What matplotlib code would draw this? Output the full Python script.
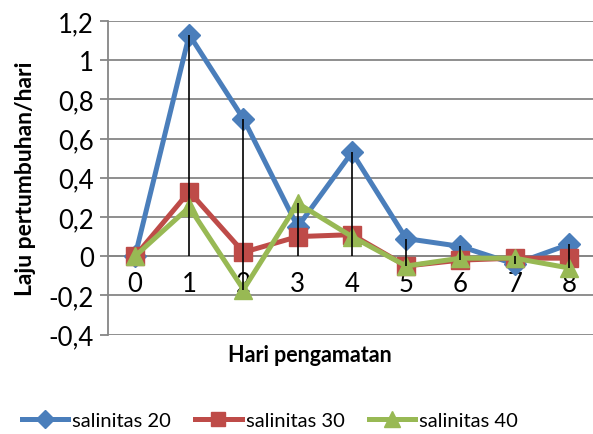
import matplotlib
matplotlib.use('Agg')
import matplotlib.pyplot as plt
from matplotlib.ticker import FuncFormatter

# hari pengamatan (categories)
hari = [0, 1, 2, 3, 4, 5, 6, 7, 8]

# laju pertumbuhan/hari per salinitas
sal20 = [0.0, 1.13, 0.70, 0.15, 0.53, 0.09, 0.05, -0.04, 0.06]
sal30 = [0.0, 0.33, 0.02, 0.10, 0.11, -0.05, -0.02, -0.01, -0.01]
sal40 = [0.0, 0.25, -0.17, 0.27, 0.10, -0.05, -0.01, -0.01, -0.06]

labels = ['salinitas 20', 'salinitas 30', 'salinitas 40']
yticks = [-0.4, -0.2, 0, 0.2, 0.4, 0.6, 0.8, 1.0, 1.2]

plt.rcParams['font.family'] = ['Lato', 'DejaVu Sans']

fig = plt.figure(figsize=(5.93, 4.35), dpi=100)
ax = fig.add_axes([0.182, 0.2285, 0.823, 0.7209])

grid_col = '#868686'
series = [
    (sal20, '#4A7EBB', 'D', 11),
    (sal30, '#BE4B48', 's', 12.5),
    (sal40, '#98B954', '^', 13),
]
x = list(range(len(hari)))
for (vals, col, mk, ms), lab in zip(series, labels):
    ax.plot(x, vals, color=col, lw=3.6, marker=mk, ms=ms, label=lab,
            zorder=3, clip_on=False)

# drop lines to the category axis
lo = [min(0, a, b, c) for a, b, c in zip(sal20, sal30, sal40)]
hi = [max(0, a, b, c) for a, b, c in zip(sal20, sal30, sal40)]
ax.vlines(x, lo, hi, color='black', lw=1.2, zorder=4)

ax.set_xlim(-0.5, len(hari) - 0.5)
ax.set_ylim(-0.4, 1.2)
ax.set_yticks(yticks)
ax.yaxis.set_major_formatter(FuncFormatter(lambda v, p: ('%g' % round(v, 1)).replace('.', ',')))
ax.set_xticks(x)
ax.set_xticklabels([str(h) for h in hari])

ax.grid(axis='y', color=grid_col, lw=1.3)
ax.set_axisbelow(True)
for s in ['top', 'right']:
    ax.spines[s].set_visible(False)
ax.spines['left'].set_color(grid_col)
ax.spines['left'].set_linewidth(1.3)
ax.spines['bottom'].set_position(('data', 0))
ax.spines['bottom'].set_color(grid_col)
ax.spines['bottom'].set_linewidth(1.3)

ax.tick_params(axis='y', length=6, width=1.3, color=grid_col, pad=4, labelsize=18.5)
ax.tick_params(axis='x', length=0, pad=11, labelsize=18.5)

ax.set_ylabel('Laju pertumbuhan/hari', fontsize=16.5, fontweight='bold', labelpad=9)
fig.text(0.523, 0.182, 'Hari pengamatan', fontsize=15.5, fontweight='bold',
         ha='center', va='center')

fig.legend(loc='center', bbox_to_anchor=(0.455, 0.032), ncol=3, frameon=False,
           fontsize=14.5, handlelength=2.3, columnspacing=1.2, handletextpad=0.2,
           markerscale=0.85)

fig.savefig('out.png', dpi=100)
